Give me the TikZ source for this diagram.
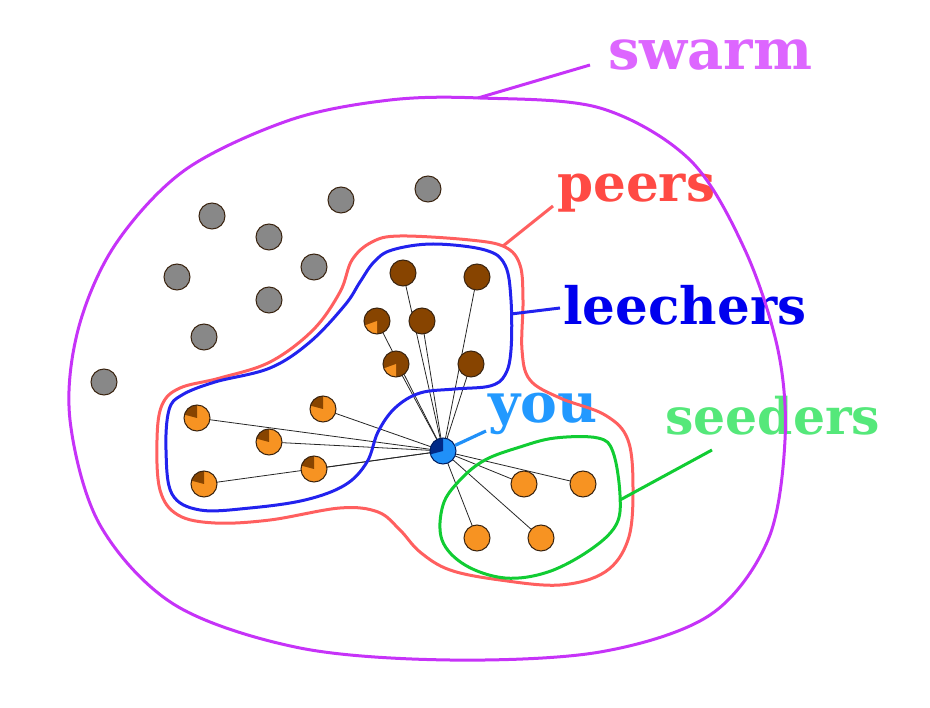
\documentclass[tikz,border=0pt]{standalone}
\usepackage{fontspec}
\setmainfont{DejaVu Serif}
\usetikzlibrary{backgrounds}
\definecolor{swarmC}{HTML}{C633F8}
\definecolor{swarmT}{HTML}{DD66FF}
\definecolor{peersC}{HTML}{FF5F5F}
\definecolor{peersT}{HTML}{FF4A44}
\definecolor{leechC}{HTML}{2222EE}
\definecolor{leechT}{HTML}{0000EE}
\definecolor{seedC}{HTML}{11CC33}
\definecolor{seedT}{HTML}{55E87A}
\definecolor{youT}{HTML}{2299FF}
\definecolor{youC}{HTML}{2090F8}
\definecolor{youW}{HTML}{002A88}
\definecolor{grayC}{HTML}{888888}
\definecolor{orangeC}{HTML}{F79322}
\definecolor{brownC}{HTML}{874400}
\definecolor{nodeline}{HTML}{3A2410}
\begin{document}
\begin{tikzpicture}[x=1pt,y=-1pt,
  peer/.style={circle, draw=nodeline, line width=1pt, minimum size=26pt, inner sep=0pt},
  graypeer/.style={peer, fill=grayC},
  seedpeer/.style={peer, fill=orangeC},
  leechpeer/.style={peer, fill=brownC},
  opie/.style={peer, fill=orangeC, path picture={\fill[brownC] (path picture bounding box.center) -- ++(90:15pt) arc[start angle=90,end angle=165,radius=15pt] -- cycle;}},
  bpie/.style={peer, fill=brownC, path picture={\fill[orangeC] (path picture bounding box.center) -- ++(200:15pt) arc[start angle=200,end angle=270,radius=15pt] -- cycle;}},
  younode/.style={peer, fill=youC, draw=youW!70!black, path picture={\fill[youW] (path picture bounding box.center) -- ++(90:15pt) arc[start angle=90,end angle=195,radius=15pt] -- cycle;}},
  blob/.style={line width=3pt, line join=round},
  lbl/.style={inner sep=0pt, anchor=base west, font=\bfseries},
  edgeline/.style={line width=0.8pt, draw=black!85}
]
\useasboundingbox (0,0) rectangle (930,708);

% labels
\node[lbl, text=swarmT] (swarmL) at (608,70) {\resizebox{204pt}{!}{swarm}};
\node[lbl, text=peersT] (peersL) at (557,202) {\resizebox{158pt}{!}{peers}};
\node[lbl, text=leechT] (leechL) at (563,325) {\resizebox{243pt}{!}{leechers}};
\node[lbl, text=seedT] (seedL) at (665,435) {\resizebox{215pt}{!}{seeders}};
\node[lbl, text=youT] (youL) at (488,423) {\resizebox{109pt}{!}{you}};

% peers outline
\draw[blob, peersC] plot[smooth cycle, tension=0.6] coordinates {
 (400,236) (470,240) (505,247) (520,265) (523,300) (522,350) (530,380) (560,398)
 (605,415) (628,440) (633,490) (628,540) (605,572) (560,585) (500,580) (450,570)
 (420,552) (400,530) (378,512) (340,508) (270,520) (215,523) (178,515) (160,490)
 (157,440) (162,405) (180,388) (220,378) (270,362) (313,330) (340,292) (352,260) (372,242)};
% leechers outline
\draw[blob, leechC] plot[smooth cycle, tension=0.6] coordinates {
 (433,244) (485,250) (505,265) (511,300) (511,350) (505,375) (490,386) (455,389)
 (420,393) (395,408) (378,432) (367,462) (345,485) (305,500) (250,508) (200,510)
 (172,494) (166,450) (169,410) (182,395) (215,382) (270,368) (310,342) (345,305)
 (360,282) (374,262) (392,250)};
% seeders outline
\draw[blob, seedC] plot[smooth cycle, tension=0.6] coordinates {
 (485,460) (520,447) (555,438) (598,438) (613,452) (620,495) (616,525) (590,550)
 (548,572) (505,578) (465,565) (442,540) (443,505) (460,480)};
% swarm outline
\draw[blob, swarmC] plot[smooth cycle, tension=0.55] coordinates {
 (480,98) (600,108) (690,160) (745,250) (778,350) (785,440) (768,540) (710,615)
 (600,652) (450,660) (300,648) (175,605) (100,525) (70,420) (78,330) (115,245)
 (185,170) (290,120) (390,100)};

% label pointers
\coordinate (sw1) at (478,98);  \coordinate (sw2) at (590,65);
\coordinate (pe1) at (503,246); \coordinate (pe2) at (553,206);
\coordinate (le1) at (511,314); \coordinate (le2) at (560,308);
\coordinate (se1) at (620,500); \coordinate (se2) at (712,450);
\coordinate (yo2) at (486,431);
\draw[line width=3pt, swarmC] (sw1) -- (sw2);
\draw[line width=3pt, peersC] (pe1) -- (pe2);
\draw[line width=3pt, leechC] (le1) -- (le2);
\draw[line width=3pt, seedC] (se1) -- (se2);

% gray peers
\node[graypeer] (g1) at (212,216) {};
\node[graypeer] (g2) at (269,237) {};
\node[graypeer] (g3) at (341,200) {};
\node[graypeer] (g4) at (428,189) {};
\node[graypeer] (g5) at (177,277) {};
\node[graypeer] (g6) at (314,267) {};
\node[graypeer] (g7) at (269,300) {};
\node[graypeer] (g8) at (204,337) {};
\node[graypeer] (g9) at (104,382) {};

% leechers (brown)
\node[leechpeer] (b1) at (403,273) {};
\node[leechpeer] (b2) at (477,277) {};
\node[bpie] (b3) at (377,321) {};
\node[leechpeer] (b4) at (422,321) {};
\node[bpie] (b5) at (396,364) {};
\node[leechpeer] (b6) at (471,364) {};

% leechers (orange)
\node[opie] (o1) at (197,418) {};
\node[opie] (o2) at (323,409) {};
\node[opie] (o3) at (269,442) {};
\node[opie] (o4) at (314,469) {};
\node[opie] (o5) at (204,484) {};

% seeders
\node[seedpeer] (s1) at (524,484) {};
\node[seedpeer] (s2) at (583,484) {};
\node[seedpeer] (s3) at (477,538) {};
\node[seedpeer] (s4) at (541,538) {};

% you
\node[younode] (you) at (443,451) {};
\draw[line width=3.2pt, youC] (you.25) -- (yo2);

\begin{scope}[on background layer]
  \foreach \n in {b1,b2,b3,b4,b5,b6,o1,o2,o3,o4,o5,s1,s2,s3,s4}
    \draw[edgeline] (you.center) -- (\n.center);
\end{scope}
\end{tikzpicture}
\end{document}
